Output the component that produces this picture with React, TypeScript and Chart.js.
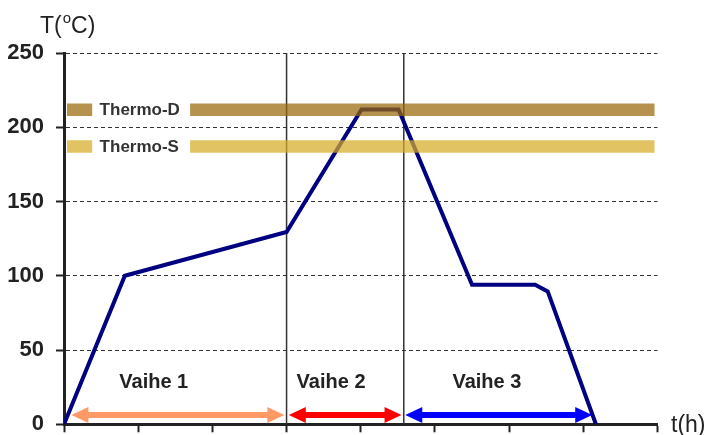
import React, { useEffect, useRef } from "react";
import { Chart, registerables } from "chart.js";

Chart.register(...registerables);

// Temperature profile (t in h, T in °C)
const profileT = [0, 0.82, 3.0, 4.01, 4.51, 5.5, 6.35, 6.52, 7.17];
const profileTemp = [0, 100, 129.5, 212, 212, 94, 94, 89.5, 0];

// Phase borders
const phaseBorders = [3.0, 4.58];

// Material bands: name, temperature, swatch span, band span
const bandNames = ["Thermo-D", "Thermo-S"];
const bandTemps = [211.8, 187];
const bandSwatch = [0.04, 0.38];
const bandSpan = [1.70, 7.96];
const bandColors = ["rgba(153,104,8,0.72)", "rgba(215,172,40,0.72)"];
const bandLabelX = 0.48;

// Phases
const phaseNames = ["Vaihe 1", "Vaihe 2", "Vaihe 3"];
const phaseStart = [0.1, 3.03, 4.6];
const phaseEnd = [2.97, 4.55, 7.12];
const phaseLabelX = [1.21, 3.6, 5.7];
const phaseColors = ["#FF9966", "#FF0000", "#0000FF"];
const phaseArrowY = 6.3;
const phaseLabelY = 28;

const yTicks = [0, 50, 100, 150, 200, 250];

const FONT = "'Liberation Sans', Arial, sans-serif";

const overlayPlugin = {
  id: "overlay",
  afterDatasetsDraw(chart: any) {
    const { ctx } = chart;
    const xs = chart.scales.x;
    const ys = chart.scales.y;
    ctx.save();
    // band labels
    ctx.font = `bold 17px ${FONT}`;
    ctx.fillStyle = "#333";
    ctx.textAlign = "left";
    ctx.textBaseline = "middle";
    bandNames.forEach((n, i) => {
      ctx.fillText(n, xs.getPixelForValue(bandLabelX), ys.getPixelForValue(bandTemps[i]) + 1);
    });
    // phase arrows
    phaseNames.forEach((n, i) => {
      const x1 = xs.getPixelForValue(phaseStart[i]);
      const x2 = xs.getPixelForValue(phaseEnd[i]);
      const y = ys.getPixelForValue(phaseArrowY);
      const hl = 17, hh = 8, sh = 3;
      ctx.fillStyle = phaseColors[i];
      ctx.beginPath();
      ctx.moveTo(x1, y);
      ctx.lineTo(x1 + hl, y - hh);
      ctx.lineTo(x1 + hl, y - sh);
      ctx.lineTo(x2 - hl, y - sh);
      ctx.lineTo(x2 - hl, y - hh);
      ctx.lineTo(x2, y);
      ctx.lineTo(x2 - hl, y + hh);
      ctx.lineTo(x2 - hl, y + sh);
      ctx.lineTo(x1 + hl, y + sh);
      ctx.lineTo(x1 + hl, y + hh);
      ctx.closePath();
      ctx.fill();
      ctx.font = `bold 20px ${FONT}`;
      ctx.fillStyle = "#222";
      ctx.textAlign = "center";
      ctx.textBaseline = "middle";
      ctx.fillText(n, xs.getPixelForValue(phaseLabelX[i]), ys.getPixelForValue(phaseLabelY));
    });
    // axis titles
    ctx.fillStyle = "#222";
    ctx.textAlign = "left";
    ctx.textBaseline = "alphabetic";
    ctx.font = `23px ${FONT}`;
    const tx = 40;
    const ty = 33;
    ctx.fillText("T(", tx, ty);
    const w1 = ctx.measureText("T(").width;
    ctx.font = `15px ${FONT}`;
    ctx.fillText("o", tx + w1 + 1, ty - 10);
    const w2 = ctx.measureText("o").width;
    ctx.font = `23px ${FONT}`;
    ctx.fillText("C)", tx + w1 + w2 + 1, ty);
    ctx.textBaseline = "middle";
    ctx.fillText("t(h)", 671, ys.getPixelForValue(0) + 1);
    ctx.restore();
  },
};

export default function App() {
  const ref = useRef<HTMLCanvasElement>(null);
  useEffect(() => {
    if (!ref.current) return;
    const profile = profileT.map((t, i) => ({ x: t, y: profileTemp[i] }));
    const datasets: any[] = [];
    bandNames.forEach((n, i) => {
      datasets.push({
        label: n + " swatch",
        data: [
          { x: bandSwatch[0], y: bandTemps[i] },
          { x: bandSwatch[1], y: bandTemps[i] },
        ],
        borderColor: bandColors[i],
        borderWidth: 12.5,
        borderCapStyle: "butt",
        pointRadius: 0,
        order: 0,
      });
      datasets.push({
        label: n,
        data: [
          { x: bandSpan[0], y: bandTemps[i] },
          { x: bandSpan[1], y: bandTemps[i] },
        ],
        borderColor: bandColors[i],
        borderWidth: 12.5,
        borderCapStyle: "butt",
        pointRadius: 0,
        order: 0,
      });
    });
    datasets.push({
      label: "T",
      data: profile,
      borderColor: "#000080",
      borderWidth: 4,
      pointRadius: 0,
      borderJoinStyle: "miter",
      order: 1,
    });
    phaseBorders.forEach((b) => {
      datasets.push({
        label: "border",
        data: [
          { x: b, y: 0 },
          { x: b, y: 250 },
        ],
        borderColor: "#333",
        borderWidth: 1.5,
        pointRadius: 0,
        order: 2,
      });
    });
    const chart = new Chart(ref.current, {
      type: "line",
      data: { datasets },
      plugins: [overlayPlugin],
      options: {
        animation: false,
        responsive: false,
        events: [],
        layout: { padding: { top: 53, right: 48.5, bottom: 10.7, left: 0 } },
        plugins: { legend: { display: false }, tooltip: { enabled: false } },
        scales: {
          x: {
            type: "linear",
            min: 0,
            max: 8,
            ticks: { stepSize: 1, display: false },
            grid: {
              drawOnChartArea: false,
              drawTicks: true,
              tickLength: 8,
              tickWidth: 2,
              tickColor: "#222",
            },
            border: { display: true, width: 3, color: "#222" },
            afterFit: (s: any) => {
              s.height = 0;
              s.paddingLeft = 0;
              s.paddingRight = 0;
              s.paddingTop = 0;
              s.paddingBottom = 0;
            },
          },
          y: {
            type: "linear",
            min: 0,
            max: 250,
            afterBuildTicks: (s: any) => {
              s.ticks = yTicks.map((v) => ({ value: v }));
            },
            ticks: {
              padding: 12,
              color: "#222",
              font: { family: FONT, size: 22, weight: "bold" },
            },
            grid: {
              color: "#333",
              lineWidth: 1,
              drawTicks: true,
              tickLength: 8,
              tickWidth: 2,
              tickColor: "#222",
              tickBorderDash: [],
            },
            border: { display: true, width: 3, color: "#222", dash: [4, 3] },
            afterFit: (s: any) => {
              s.width = 64;
              s.paddingTop = 0;
              s.paddingBottom = 0;
              s.paddingLeft = 0;
              s.paddingRight = 0;
            },
          },
        },
      } as any,
    });
    return () => chart.destroy();
  }, []);
  return (
    <div style={{ position: "fixed", left: 0, top: 0, width: 706, height: 435, background: "#fff" }}>
      <canvas ref={ref} width={706} height={435} style={{ width: 706, height: 435, display: "block" }} />
    </div>
  );
}
